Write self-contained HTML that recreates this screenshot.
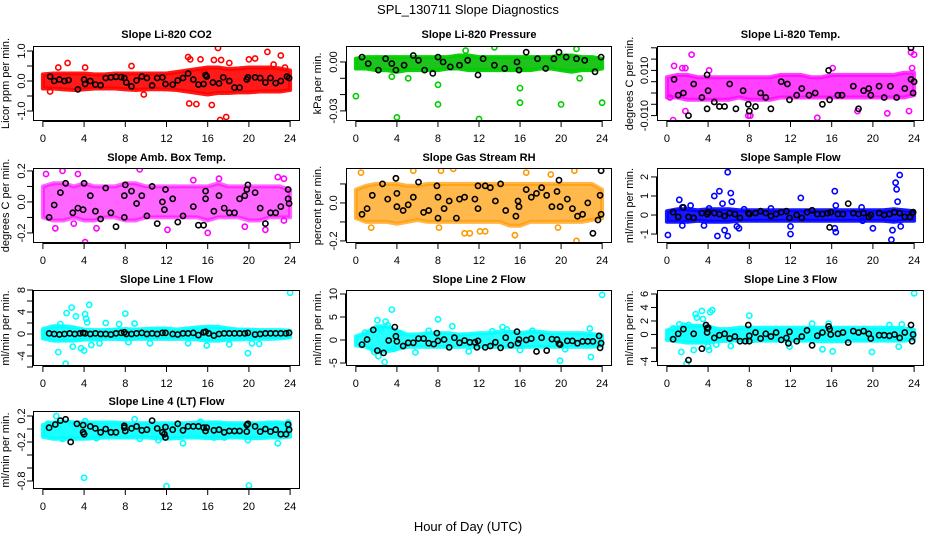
<!DOCTYPE html>
<html><head><meta charset="utf-8"><title>SPL_130711 Slope Diagnostics</title>
<style>
html,body{margin:0;padding:0;background:#fff;}
svg{display:block;font-family:"Liberation Sans",Arial,sans-serif;}
</style></head>
<body>
<svg id="chart" width="936" height="540" viewBox="0 0 936 540">
<text x="468" y="14" text-anchor="middle" font-size="13">SPL_130711  Slope Diagnostics</text>
<text x="468" y="531" text-anchor="middle" font-size="13">Hour of Day (UTC)</text>
</svg>
<script>
// ---- shared
const xTicks = [0,4,8,12,16,20,24];
const bandHours = [0,1,2,3,4,5,6,7,8,9,10,11,12,13,14,15,16,17,18,19,20,21,22,23,24];

// ---- Panel 1: CO2
const co2BandLo = [-0.25,-0.25,-0.28,-0.3,-0.28,-0.25,-0.25,-0.25,-0.28,-0.3,-0.28,-0.27,-0.28,-0.3,-0.35,-0.4,-0.45,-0.4,-0.4,-0.38,-0.38,-0.35,-0.35,-0.35,-0.3];
const co2BandHi = [0.22,0.25,0.25,0.25,0.25,0.22,0.22,0.25,0.25,0.25,0.25,0.25,0.25,0.3,0.35,0.4,0.45,0.45,0.4,0.42,0.45,0.45,0.45,0.42,0.35];
const co2OutX = [1.5,2.4,4.1,8.6,0.7,9.8,14.1,14.3,14.2,14.9,15.3,16.4,17,17.2,17.8,16.6,17.3,18.1,20,20.6,21.8,23.1,22.4,23.5,15.7];
const co2OutY = [0.45,0.6,0.45,0.5,-0.35,-0.45,0.8,0.72,-0.75,-0.77,0.72,-0.8,1.1,-1.3,-1.2,0.7,0.7,0.6,0.72,0.75,0.97,0.85,0.55,0.45,0.3];
const co2BlkX = [0.7,1.1,1.6,2.1,2.5,3.4,4,4.1,4.6,5.1,5.6,6.1,6.6,7.1,7.6,7.9,8.1,8.6,9.1,9.6,10.1,10.6,11.1,11.6,11.9,12.6,13.1,13.6,14.1,14.6,15.1,15.6,15.8,15.9,16.5,17.1,17.5,18.1,18.6,19.1,19.8,19.9,20.6,21.1,21.6,22.1,22.6,23.1,23.7,23.9];
const co2BlkY = [0.15,0.0,0.05,0.0,0.03,-0.28,0.05,-0.1,0.0,-0.12,-0.14,0.1,0.12,0.14,0.13,0.1,-0.05,-0.18,0.02,0.15,0.1,-0.15,0.1,0.12,-0.1,-0.12,0.02,0.1,0.25,0.05,-0.12,-0.1,0.2,0.15,-0.05,-0.08,0.12,0.0,-0.22,-0.22,0.05,0.12,0.12,0.1,-0.05,0.1,-0.07,0.0,0.15,0.1];

// ---- Panel 2: Pressure
const prsBandLo = [-0.004,-0.004,-0.005,-0.005,-0.006,-0.005,-0.005,-0.005,-0.005,-0.004,-0.004,-0.005,-0.005,-0.005,-0.005,-0.005,-0.005,-0.005,-0.004,-0.004,-0.005,-0.006,-0.005,-0.005,-0.004];
const prsBandHi = [0.002,0.003,0.003,0.003,0.003,0.003,0.003,0.003,0.003,0.003,0.004,0.004,0.003,0.003,0.003,0.003,0.003,0.003,0.003,0.003,0.004,0.004,0.003,0.003,0.002];
const prsOutX = [0,4,8,8,12,16,16,20,24,3.5,5.1,13.5,21.5,10.7,21.8];
const prsOutY = [-0.021,-0.034,-0.014,-0.026,-0.035,-0.016,-0.025,-0.026,-0.025,-0.009,-0.01,0.009,0.008,0.007,-0.01];
const prsBlkX = [0.6,1.2,2.2,2.9,3.5,3.9,4.7,5.6,6.1,6.7,7.5,8,8.5,9.2,10.1,10.9,11.9,12.4,13.5,14.5,15.7,15.9,16.6,17.7,18.5,19.3,19.8,20.5,21.5,22.3,23.3,23.9];
const prsBlkY = [0.003,-0.001,-0.005,0.002,-0.001,-0.005,-0.002,0.004,0.001,-0.005,-0.007,0.003,0.0,-0.003,-0.002,0.001,-0.008,0.002,-0.002,-0.004,0.0,-0.005,0.006,0.002,-0.004,0.002,0.006,0.003,0.002,0.001,-0.006,0.003];

// ---- Panel 3: Li-820 Temp
const tmpBandLo = [-0.002,-0.002,-0.003,-0.003,-0.003,-0.003,-0.003,-0.002,-0.003,-0.003,-0.003,-0.002,-0.002,-0.002,-0.002,-0.002,-0.002,-0.002,-0.002,-0.002,-0.002,-0.002,-0.002,-0.002,-0.001];
const tmpBandHi = [0.007,0.008,0.008,0.007,0.007,0.007,0.007,0.007,0.007,0.007,0.007,0.008,0.008,0.008,0.007,0.007,0.008,0.008,0.008,0.008,0.008,0.008,0.008,0.009,0.009];
const tmpOutX = [2.4,0.7,1.5,1.8,0.3,0.6,1.8,4.1,7.9,8.1,14.6,16.1,21.4,23.7,24,23.8,23.5,18.5];
const tmpOutY = [0.017,0.012,0.011,0.011,-0.002,-0.012,-0.008,0.010,-0.010,-0.010,-0.011,0.011,-0.009,0.018,0.017,0.011,-0.008,-0.008];
const tmpBlkX = [0.7,1.1,1.6,2.1,2.6,3.4,3.9,3.9,4,4.6,5.1,5.6,6.1,6.7,7.4,7.9,8,8.6,9.1,9.6,10.1,11.1,11.7,11.9,12.6,13.1,13.8,14.4,15.1,15.7,15.8,16.6,17,18.1,18.6,19.1,19.6,19.8,20.6,21.1,21.7,22.3,23.1,23.7,23.7,23.9,24];
const tmpBlkY = [0.006,-0.001,0.0,-0.010,0.004,-0.002,0.008,-0.007,0.001,-0.004,-0.006,-0.006,0.004,-0.007,0.001,-0.005,-0.008,-0.006,0.0,-0.002,-0.007,0.005,0.004,-0.003,-0.001,0.002,-0.001,0.0,-0.005,0.010,-0.003,-0.001,-0.001,0.003,-0.007,0.001,0.002,-0.001,0.003,-0.002,0.003,-0.002,0.002,0.020,0.006,0.0,0.005];

// ---- Panel 4: Amb Box Temp
const ambBandLo = [-0.1,-0.12,-0.12,-0.1,-0.12,-0.12,-0.1,-0.1,-0.12,-0.12,-0.1,-0.1,-0.1,-0.1,-0.1,-0.1,-0.12,-0.1,-0.1,-0.1,-0.12,-0.12,-0.1,-0.1,-0.1];
const ambBandHi = [0.1,0.12,0.12,0.1,0.12,0.1,0.1,0.1,0.12,0.12,0.1,0.1,0.1,0.1,0.1,0.1,0.1,0.12,0.1,0.1,0.1,0.1,0.1,0.1,0.08];
const ambOutX = [0.3,1.9,3.4,9.4,1.2,4.1,3,5.2,16,21.6,22.8,23.4,23.4,19.6,12.1,17.1,14.6];
const ambOutY = [0.18,0.2,0.18,0.21,-0.17,-0.26,-0.14,-0.17,-0.2,-0.18,0.16,0.15,-0.12,-0.16,-0.18,0.15,0.14];
const ambBlkX = [0.6,1.1,1.7,2.2,2.9,3.4,3.9,4,4.6,5.1,5.6,6.1,6.6,7.1,7.9,7.9,8,8.6,9.1,9.6,10.1,10.6,11.1,11.6,11.8,11.9,12.6,13.1,13.6,14.6,15.1,15.6,15.8,15.8,16.6,17.1,17.6,18.1,18.6,19.1,19.6,19.8,19.9,20.6,21.1,21.6,22.1,22.6,23.1,23.8,23.8,23.9];
const ambBlkY = [-0.1,-0.02,0.06,0.12,-0.07,-0.04,-0.05,0.12,0.04,-0.06,-0.11,0.09,-0.07,-0.16,0.04,-0.1,0.11,0.07,-0.01,0.04,-0.09,0.1,-0.14,0.0,-0.05,0.08,0.02,-0.13,-0.09,-0.03,-0.15,-0.15,0.07,0.02,-0.06,0.04,-0.04,-0.07,-0.07,0.02,0.04,0.08,0.11,0.06,-0.04,-0.14,-0.07,-0.07,-0.03,0.08,0.02,-0.01];

// ---- Panel 5: Gas Stream RH
const rhBandLo = [-0.08,-0.1,-0.1,-0.1,-0.11,-0.1,-0.09,-0.1,-0.1,-0.1,-0.1,-0.1,-0.1,-0.1,-0.1,-0.12,-0.12,-0.1,-0.1,-0.1,-0.1,-0.1,-0.1,-0.09,-0.08];
const rhBandHi = [0.07,0.09,0.1,0.1,0.1,0.09,0.09,0.1,0.1,0.1,0.1,0.1,0.1,0.1,0.1,0.1,0.1,0.1,0.1,0.1,0.1,0.1,0.1,0.1,0.07];
const rhOutX = [0.5,3.9,5.6,8.3,9.5,10.6,11.1,12.1,12.6,15.5,16.6,19,21.3,21.5,19.7,8.1,1.5];
const rhOutY = [0.16,0.13,0.17,0.17,0.18,-0.16,-0.16,-0.15,-0.15,-0.17,0.16,0.15,0.17,-0.2,-0.13,-0.13,-0.13];
const rhBlkX = [0.6,1.1,1.6,2.6,3.1,3.9,4,4,4.6,5.1,5.6,6.1,6.6,7.1,7.9,8,8,8.6,9.1,9.8,10.1,10.6,11.6,11.9,11.9,12.6,13.1,13.6,14.1,14.6,15.6,15.8,15.9,16.6,17.1,17.6,18.1,18.6,19.1,19.6,19.8,19.9,20.6,21.1,21.6,22.1,22.6,23.1,23.6,23.8,23.9,23.9];
const rhBlkY = [-0.06,-0.03,0.04,0.1,0.02,0.13,0.05,-0.02,-0.04,-0.01,0.03,0.11,-0.05,-0.04,0.09,-0.08,0.03,-0.03,0.01,-0.08,0.02,0.03,0.02,0.09,-0.03,0.09,0.08,0.01,0.1,-0.04,-0.07,0.01,-0.02,0.07,0.03,0.05,0.08,0.04,-0.02,0.06,0.12,-0.02,0.02,-0.03,-0.07,-0.06,0.0,-0.16,-0.09,0.04,0.17,-0.06];

// ---- Panel 6: Sample Flow
const sfBandLo = [-0.35,-0.35,-0.35,-0.3,-0.35,-0.35,-0.35,-0.3,-0.3,-0.3,-0.3,-0.3,-0.3,-0.3,-0.3,-0.3,-0.3,-0.3,-0.3,-0.3,-0.3,-0.3,-0.35,-0.3,-0.3];
const sfBandHi = [0.2,0.3,0.3,0.25,0.3,0.3,0.3,0.25,0.25,0.25,0.25,0.25,0.25,0.25,0.25,0.25,0.25,0.25,0.25,0.25,0.25,0.25,0.3,0.25,0.2];
const sfOutX = [0.1,1.2,1.5,1.5,3.6,4.6,4.9,5.1,5.9,5.4,5.6,5.9,6.2,6.3,7,10.1,12,12,13,16.3,16.3,16.4,16.4,18.9,20,21.8,21.9,22.2,22.3,22.6,22.4,22.7,19,7.5,2.3,4.1,6.8];
const sfOutY = [-1.05,0.8,0.4,-0.55,-0.55,1.0,-1.1,1.25,2.25,0.6,-0.8,-1.1,1.15,0.7,-0.7,0.35,-1.0,-0.6,0.9,1.25,-0.7,-0.9,0.5,0.4,-0.7,-1.3,-0.8,1.7,1.35,2.1,0.7,-0.6,-0.3,0.3,0.5,0.35,-0.6];
const sfBlkX = [0.6,1.1,1.6,2.1,2.6,3.4,3.9,4,4.6,5.1,5.6,6.1,6.6,7.1,7.9,8,8.6,9.1,9.6,10.1,10.6,11.1,11.6,11.9,12.6,13.1,13.6,14.1,14.6,15.1,15.6,15.8,15.9,16.6,17.1,17.6,18.1,18.6,19.1,19.6,19.8,20.6,21.1,21.6,22.1,22.6,23.1,23.6,23.8,23.9];
const sfBlkY = [0.15,-0.1,0.4,-0.1,-0.15,0.1,0.05,0.15,0.1,0.05,-0.05,0.1,0.05,-0.15,0.1,0.05,0.1,0.2,0.1,-0.05,0.05,0.15,0.2,-0.15,0.0,-0.15,0.15,0.25,0.05,0.05,0.1,-0.65,0.15,0.05,0.05,0.6,0.1,0.05,0.1,-0.1,0.0,0.1,0.0,0.05,0.15,0.1,-0.1,-0.1,0.1,0.15];

// ---- Panel 7: Line 1 Flow
const l1BandLo = [-0.8,-1.2,-1.2,-1.2,-1.0,-1.0,-0.9,-0.9,-1.0,-0.9,-0.9,-0.9,-0.9,-0.9,-0.9,-1.0,-1.2,-1.2,-1.0,-1.0,-0.9,-0.9,-0.9,-0.8,-0.6];
const l1BandHi = [0.9,1.4,1.4,1.2,0.8,0.7,0.7,0.8,0.9,0.8,0.9,1.0,1.0,0.8,1.0,1.2,1.3,1.3,1.0,0.8,0.8,0.7,0.7,0.7,0.6];
const l1OutX = [1.5,1.7,2.2,2.3,2.8,2.9,3.2,3.7,4,4.1,4.2,4.3,4.5,4.7,5.5,6.1,7.4,8,8.9,14.1,15.9,18.1,19.9,20.3,21,24,10.4,8.3];
const l1OutY = [-3.3,1.8,-5.4,3.8,4.8,-2.3,3.2,-2.6,-3.0,3.6,2.8,2.1,5.3,-2.0,-1.7,2.0,1.8,3.7,1.9,-1.7,-2.1,-1.9,-3.5,-1.7,-1.8,7.5,-1.7,-1.5];
const l1BlkX = [0.6,1.1,1.6,2.1,2.6,3.1,3.6,3.9,4.1,4.6,5.1,5.6,6.1,6.6,7.1,7.6,7.9,8.1,8.6,9.1,9.6,10.1,10.6,11.1,11.6,11.9,12.6,13.1,13.6,14.1,14.6,15.1,15.6,15.8,16.1,16.6,17.1,17.6,18.1,18.6,19.1,19.6,19.9,20.6,21.1,21.6,22.1,22.6,23.1,23.6,23.9];
const l1BlkY = [0.1,0.0,-0.1,0.0,0.1,0.0,0.1,0.2,0.1,0.0,0.1,0.0,0.0,-0.1,0.1,0.2,0.3,0.0,0.0,0.1,0.2,0.0,0.1,0.0,0.2,0.2,0.0,-0.1,0.1,0.1,0.2,-0.2,0.3,0.4,0.1,-0.3,0.0,0.1,0.1,0.1,0.1,0.1,0.2,-0.1,0.0,0.1,0.1,0.1,0.1,0.1,0.2];

// ---- Panel 8: Line 2 Flow
const l2BandLo = [-1.2,-1.5,-2.5,-2.5,-2.0,-1.5,-1.5,-1.5,-1.5,-1.5,-1.5,-1.5,-1.5,-1.5,-1.5,-1.5,-1.5,-1.5,-1.5,-1.5,-1.5,-1.5,-1.5,-1.5,-1.2];
const l2BandHi = [0.8,1.5,3.0,3.0,2.0,1.2,1.2,1.5,1.5,1.5,1.2,1.3,1.5,1.5,1.8,1.8,1.5,1.8,1.8,1.5,1.5,1.5,1.5,1.3,1.0];
const l2OutX = [1.8,2.1,2.2,2.4,2.8,2.9,3.1,3.5,3.7,4.3,5.8,8,9.4,11,13.3,14.3,14.7,16,19.9,20.4,22.8,22.9,24,0.9,7.1,17.2];
const l2OutY = [-2.6,4.3,-3.5,2.4,-4.8,4,3.2,6.6,-1.9,1.5,-2.7,4.5,3,-2.5,1.9,2.8,2.3,-2.2,-4.5,-2.0,2.5,-3.7,9.8,1.6,2,2.0];
const l2BlkX = [0.6,1.1,1.7,2.1,2.7,3.2,3.8,3.9,4,4.6,5.1,5.6,6.1,6.6,7.1,7.6,7.9,8,8.6,9.1,9.6,10.1,10.6,11.1,11.6,11.8,11.9,12.6,13.1,13.6,14.1,14.6,15.1,15.7,15.8,15.9,16.6,17.1,17.6,18.1,18.6,19.1,19.6,19.8,19.9,20.6,21.1,21.6,22.1,22.6,23.1,23.7,23.8,23.9];
const l2BlkY = [-1,0.1,2.2,-2.3,-2.8,-0.1,2.8,0.8,-0.3,-1.3,-0.6,-0.6,0.3,0.3,-0.7,-0.9,1.5,-0.2,0.1,-1.6,0.5,-0.6,-0.1,-0.5,-0.5,-1.6,-0.2,-1.6,-1.3,-0.5,-1.7,0.5,-1.1,1.8,-0.7,0.1,0.0,0.3,-2.5,0.5,-2.3,0.2,0.1,-0.8,-1.0,-0.2,-0.2,-0.7,-0.3,-0.3,-0.3,0.9,-1.7,-0.7];

// ---- Panel 9: Line 3 Flow
const l3BandLo = [-0.8,-1.0,-1.2,-1.2,-1.2,-1.0,-0.9,-0.9,-1.0,-0.9,-0.9,-0.9,-0.9,-0.9,-0.9,-1.0,-1.0,-1.0,-0.9,-0.9,-0.9,-0.9,-0.9,-0.9,-0.7];
const l3BandHi = [0.6,1.0,1.3,1.3,1.2,0.8,0.8,1.0,1.0,1.0,1.0,1.0,1.0,1.0,1.0,1.0,1.0,1.0,1.0,1.0,1.0,1.0,1.0,0.9,0.7];
const l3OutX = [1.2,1.4,1.6,1.9,2.1,2.6,2.8,2.9,3.4,3.5,4,4.1,4.2,4.4,8,4.8,11.9,14.1,15.1,15.7,16.1,19.9,21.6,22.5,22.8,24,6.2,0.6];
const l3OutY = [1.5,-2.6,1.3,-4.3,1.4,-2.3,3,2.5,3.5,2.3,-1.8,-2.3,3.3,3.6,2.8,-1.5,-1.8,1.6,-2.2,1.6,-2.5,-2.6,1.4,-1.8,1.5,6.1,-1.7,0.9];
const l3BlkX = [0.6,1.1,1.6,2.1,2.6,3.4,3.8,3.9,4,3.9,4.6,5.1,5.6,6.1,6.6,7.1,7.6,7.9,8,8,8.6,9.1,9.6,10.1,10.6,11.1,11.6,11.8,11.9,12.6,13.1,13.6,14.1,14.6,15.1,15.7,15.8,15.9,16.6,17.1,17.6,18.1,18.6,19.1,19.6,19.8,20.6,21.1,21.6,22.1,22.6,23.1,23.7,23.8,23.9];
const l3BlkY = [-0.7,0.1,0.8,-3.8,0.1,-2.1,1.4,0.9,1,0.3,-0.5,-0.1,0.1,-0.6,-0.3,-1,-1,1.4,-0.2,-1,0.3,-0.6,0.1,-0.3,0.3,-0.8,-0.5,-1.3,0.4,-1.0,-0.3,0.6,-1.6,-0.2,0.3,1.2,0.8,0,0.1,0.3,-1.2,0.5,0.3,0.5,0.1,-0.6,-0.1,-0.1,-0.2,0,-0.5,0.3,1.4,-1,0];

// ---- Panel 10: Line 4 (LT) Flow
const l4BandLo = [-0.12,-0.15,-0.15,-0.15,-0.15,-0.14,-0.13,-0.13,-0.13,-0.13,-0.13,-0.14,-0.15,-0.14,-0.13,-0.13,-0.14,-0.14,-0.13,-0.13,-0.14,-0.14,-0.13,-0.13,-0.12];
const l4BandHi = [0.06,0.1,0.12,0.1,0.1,0.1,0.1,0.1,0.09,0.09,0.09,0.09,0.09,0.09,0.09,0.1,0.1,0.1,0.09,0.09,0.09,0.09,0.1,0.1,0.08];
const l4OutX = [0.5,1.3,1.9,4,4.1,5.2,8.9,11.2,12,13.6,15.3,16.6,19.9,20,22.8,23.8,17.6,9.4];
const l4OutY = [0.08,0.2,-0.15,-0.75,0.12,-0.14,0.15,-0.17,-0.88,-0.22,0.11,-0.13,-0.17,-0.87,-0.22,0.1,-0.13,-0.15];
const l4BlkX = [0.6,1.2,1.7,2.2,2.7,3.3,3.9,3.9,4,4.6,5.1,5.6,6.1,6.6,7.1,7.9,7.9,8,8.6,9.1,9.6,10.1,10.6,11.1,11.6,11.8,11.9,11.9,12.6,13.1,13.6,14.1,14.6,15.1,15.6,15.8,15.9,16.6,17.1,17.6,18.1,18.6,19.1,19.8,19.9,19.8,20.6,21.1,21.6,22.1,22.6,23.1,23.6,23.8,23.9];
const l4BlkY = [0.02,0.07,0.13,0.15,-0.2,0.08,0.06,-0.05,-0.08,0.04,0.01,-0.05,0.0,-0.05,-0.05,0.05,0.02,-0.03,0.01,0.04,-0.02,-0.01,0.13,0.01,-0.05,-0.08,-0.13,0.03,-0.01,0.08,-0.02,0.04,0.04,0.04,0.02,-0.03,0.02,-0.02,-0.01,-0.05,-0.03,-0.03,-0.03,0.06,0.08,-0.04,0.04,-0.04,0.0,-0.04,-0.01,-0.08,-0.08,0.07,-0.01];

// ---- panel configuration (layout)
const cols = [{l:33,r:300,yl:25,yt:9},{l:346,r:612,yl:337,yt:321},{l:657,r:924,yl:648,yt:633}];
const rows = [{t:46,b:121,tt:38},{t:168,b:243,tt:161},{t:290,b:366,tt:283},{t:411,b:489,tt:405}];
const panels = [
 {name:'co2',title:'Slope Li-820 CO2',ylab:'Licor ppm per min.',c:0,r:0,ymax:1.167,ymin:-1.333,ticks:[-1,-0.5,0,0.5,1],labs:[[-1,'-1.0'],[0,'0.0'],[1,'1.0']],col:'#ff0000',band:'#ff0000',op:0.9,lo:co2BandLo,hi:co2BandHi,ox:co2OutX,oy:co2OutY,bx:co2BlkX,by:co2BlkY},
 {name:'pressure',title:'Slope Li-820 Pressure',ylab:'kPa per min.',c:1,r:0,ymax:0.0098,ymin:-0.0362,ticks:[-0.03,-0.02,-0.01,0],labs:[[-0.03,'-0.03'],[0,'0.00']],col:'#00cd00',band:'#12c012',op:0.95,lo:prsBandLo,hi:prsBandHi,ox:prsOutX,oy:prsOutY,bx:prsBlkX,by:prsBlkY},
 {name:'li820-temp',title:'Slope Li-820 Temp.',ylab:'degrees C per min.',c:2,r:0,ymax:0.0208,ymin:-0.0124,ticks:[-0.01,-0.005,0,0.005,0.01,0.015,0.02],labs:[[-0.01,'-0.010'],[0.01,'0.010']],col:'#ff00ff',band:'#ff00ff',op:0.75,lo:tmpBandLo,hi:tmpBandHi,ox:tmpOutX,oy:tmpOutY,bx:tmpBlkX,by:tmpBlkY},
 {name:'amb-box-temp',title:'Slope Amb. Box Temp.',ylab:'degrees C per min.',c:0,r:1,ymax:0.219,ymin:-0.265,ticks:[-0.2,-0.1,0,0.1,0.2],labs:[[-0.2,'-0.2'],[0,'0.0'],[0.2,'0.2']],col:'#ff00ff',band:'#ff00ff',op:0.6,lo:ambBandLo,hi:ambBandHi,ox:ambOutX,oy:ambOutY,bx:ambBlkX,by:ambBlkY},
 {name:'gas-stream-rh',title:'Slope Gas Stream RH',ylab:'percent per min.',c:1,r:1,ymax:0.184,ymin:-0.211,ticks:[-0.2,-0.1,0,0.1],labs:[[-0.2,'-0.2'],[0,'0.0']],col:'#ff9900',band:'#ff9a00',op:0.7,lo:rhBandLo,hi:rhBandHi,ox:rhOutX,oy:rhOutY,bx:rhBlkX,by:rhBlkY},
 {name:'sample-flow',title:'Slope Sample Flow',ylab:'ml/min per min.',c:2,r:1,ymax:2.47,ymin:-1.47,ticks:[-1,0,1,2],labs:[[-1,'-1'],[0,'0'],[1,'1'],[2,'2']],col:'#0000ff',band:'#0000ff',op:0.9,lo:sfBandLo,hi:sfBandHi,ox:sfOutX,oy:sfOutY,bx:sfBlkX,by:sfBlkY},
 {name:'line1-flow',title:'Slope Line 1 Flow',ylab:'ml/min per min.',c:0,r:2,ymax:8.0,ymin:-5.82,ticks:[-6,-4,-2,0,2,4,6,8],labs:[[-4,'-4'],[0,'0'],[4,'4'],[8,'8']],col:'#00ffff',band:'#00ffff',op:0.9,lo:l1BandLo,hi:l1BandHi,ox:l1OutX,oy:l1OutY,bx:l1BlkX,by:l1BlkY},
 {name:'line2-flow',title:'Slope Line 2 Flow',ylab:'ml/min per min.',c:1,r:2,ymax:10.87,ymin:-5.65,ticks:[-5,0,5,10],labs:[[-5,'-5'],[0,'0'],[5,'5'],[10,'10']],col:'#00ffff',band:'#00ffff',op:0.85,lo:l2BandLo,hi:l2BandHi,ox:l2OutX,oy:l2OutY,bx:l2BlkX,by:l2BlkY},
 {name:'line3-flow',title:'Slope Line 3 Flow',ylab:'ml/min per min.',c:2,r:2,ymax:6.59,ymin:-4.67,ticks:[-4,-2,0,2,4,6],labs:[[-4,'-4'],[0,'0'],[2,'2'],[4,'4'],[6,'6']],col:'#00ffff',band:'#00ffff',op:0.9,lo:l3BandLo,hi:l3BandHi,ox:l3OutX,oy:l3OutY,bx:l3BlkX,by:l3BlkY},
 {name:'line4-flow',title:'Slope Line 4 (LT) Flow',ylab:'ml/min per min.',c:0,r:3,ymax:0.277,ymin:-0.923,ticks:[-0.8,-0.6,-0.4,-0.2,0,0.2],labs:[[-0.8,'-0.8'],[-0.2,'-0.2'],[0.2,'0.2']],col:'#00ffff',band:'#00ffff',op:0.9,lo:l4BandLo,hi:l4BandHi,ox:l4OutX,oy:l4OutY,bx:l4BlkX,by:l4BlkY}
];

const NS='http://www.w3.org/2000/svg';
const svg=document.getElementById('chart');
function mk(tag,attrs,parent){const e=document.createElementNS(NS,tag);for(const k in attrs)e.setAttribute(k,attrs[k]);parent.appendChild(e);return e;}

panels.forEach(p=>{
  const C=cols[p.c], R=rows[p.r];
  const xs=v=>C.l+(v+0.96)/(25.92)*(C.r-C.l);
  const ys=v=>R.t+(p.ymax-v)/(p.ymax-p.ymin)*(R.b-R.t);
  const g=mk('g',{},svg);
  
  
  const clipId='clip-'+p.name;
  const cp=mk('clipPath',{id:clipId},g);
  mk('rect',{x:C.l,y:R.t,width:C.r-C.l,height:R.b-R.t},cp);
  const plot=mk('g',{'clip-path':'url(#'+clipId+')'},g);
  // band
  let pts=bandHours.map((h,i)=>xs(h).toFixed(1)+','+ys(p.hi[i]).toFixed(1));
  pts=pts.concat(bandHours.slice().reverse().map((h,j)=>{const i=bandHours.length-1-j;return xs(h).toFixed(1)+','+ys(p.lo[i]).toFixed(1);}));
  const band=mk('polygon',{points:pts.join(' '),fill:p.band,'fill-opacity':p.op,stroke:p.col,'stroke-opacity':p.op,'stroke-width':4,'stroke-linejoin':'round'},plot);
  
  
  // outliers
  p.ox.forEach((x,i)=>{
    const c=mk('circle',{cx:xs(x).toFixed(1),cy:ys(p.oy[i]).toFixed(1),r:2.6,fill:'none',stroke:p.col,'stroke-width':1.6},plot);
    
    
  });
  // black points
  p.bx.forEach((x,i)=>{
    const c=mk('circle',{cx:xs(x).toFixed(1),cy:ys(p.by[i]).toFixed(1),r:2.6,fill:'none',stroke:'#000','stroke-width':1.6},plot);
    
    
  });
  // box
  const box=mk('rect',{x:C.l+0.5,y:R.t+0.5,width:C.r-C.l-1,height:R.b-R.t-1,fill:'none',stroke:'#000','stroke-width':1},g);
  
  
  // title
  const t=mk('text',{x:(C.l+C.r)/2,y:R.tt,'text-anchor':'middle','font-size':11,'font-weight':'bold'},g);
  t.textContent=p.title;
  
  
  // x axis
  const xa=mk('g',{},g);
  
  
  mk('line',{x1:xs(xTicks[0]),x2:xs(xTicks[xTicks.length-1]),y1:R.b+0.5,y2:R.b+0.5,stroke:'#000'},xa);
  xTicks.forEach(v=>{
    mk('line',{x1:xs(v),x2:xs(v),y1:R.b,y2:R.b+6,stroke:'#000'},xa);
    const tl=mk('text',{x:xs(v),y:R.b+21,'text-anchor':'middle','font-size':11},xa);
    tl.textContent=String(v);
    
    
  });
  // y axis
  const ya=mk('g',{},g);
  
  
  const tk=p.ticks;
  mk('line',{x1:C.l-0.5,x2:C.l-0.5,y1:ys(tk[0]),y2:ys(tk[tk.length-1]),stroke:'#000'},ya);
  tk.forEach(v=>{mk('line',{x1:C.l-6,x2:C.l,y1:ys(v),y2:ys(v),stroke:'#000'},ya);});
  p.labs.forEach(([v,s])=>{
    const yy=ys(v);
    const tl=mk('text',{x:C.yl,y:yy,'text-anchor':'middle','font-size':11,transform:'rotate(-90 '+C.yl+' '+yy+')'},ya);
    tl.textContent=s;
    
    
  });
  const ym=(R.t+R.b)/2;
  const yt=mk('text',{x:C.yt,y:ym,'text-anchor':'middle','font-size':11,transform:'rotate(-90 '+C.yt+' '+ym+')'},g);
  yt.textContent=p.ylab;
  
  
});
</script>
</body></html>
